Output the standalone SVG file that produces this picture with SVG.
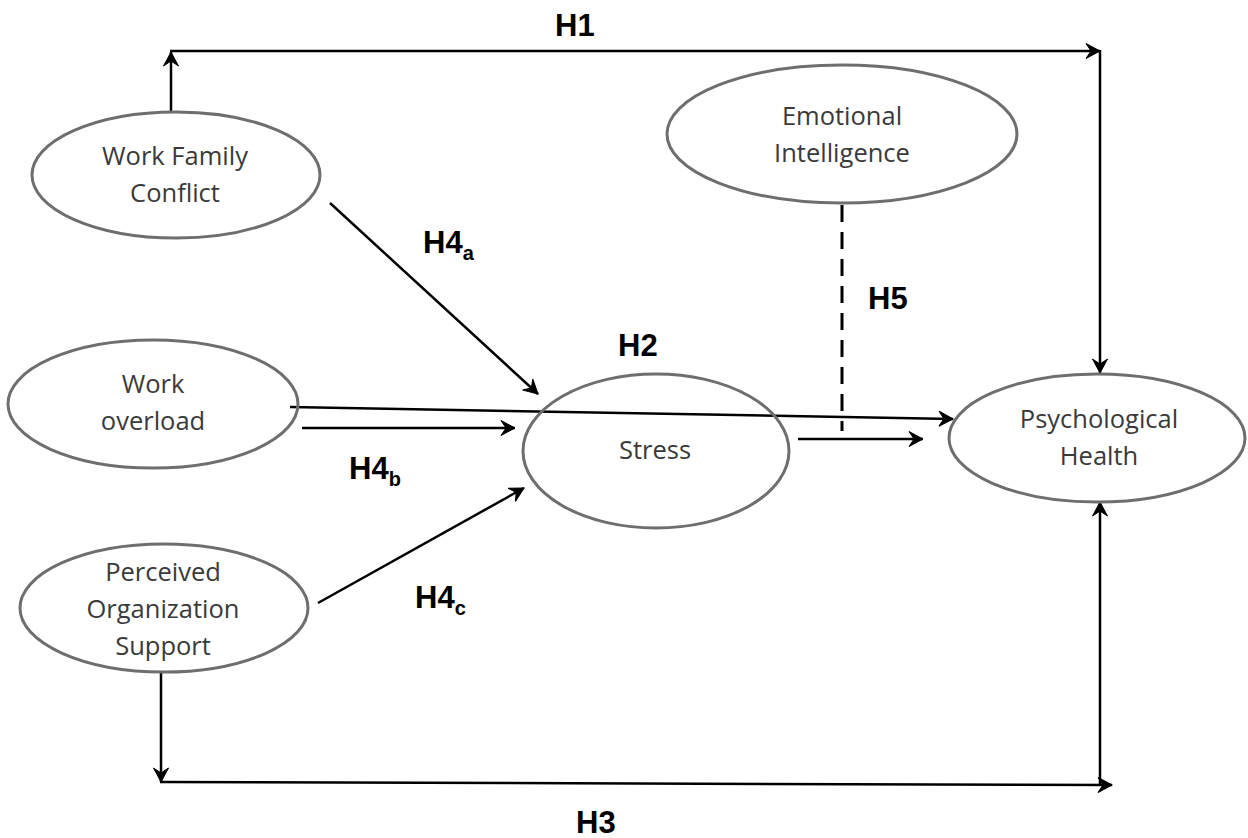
<svg xmlns="http://www.w3.org/2000/svg" width="1248" height="838" viewBox="0 0 1248 838">
<style>
.node ellipse{fill:none;stroke:#6e6e6e;stroke-width:3}
.node text{font-family:"Open Sans","Liberation Sans",sans-serif;font-size:25.5px;fill:#3a3a3a;text-anchor:middle}
.conn line{stroke:#000;stroke-width:2.5;fill:none}
.conn .arr{marker-end:url(#ah)}
.conn .dash{stroke-dasharray:17 10;stroke-width:3}
.lbl{font-family:"Liberation Sans",Arial,sans-serif;font-weight:bold;font-size:31px;fill:#000}
.sub{font-size:20px}
</style>
<defs>
<marker id="ah" markerUnits="userSpaceOnUse" markerWidth="20" markerHeight="20" viewBox="-16 -10 20 20" refX="0" refY="0" orient="auto">
<path d="M0,0 L-14,-7.5 L-9,0 L-14,7.5 Z" fill="#000" stroke="#000" stroke-width="1" stroke-linejoin="miter"/>
</marker>
</defs>
<rect width="1248" height="838" fill="#fff"/>
<g id="connectors" class="conn">
<line class="arr" x1="171" y1="111" x2="171" y2="52"/>
<line class="arr" x1="170" y1="51" x2="1100" y2="51"/>
<line class="arr" x1="1100" y1="50" x2="1100" y2="373"/>
<line class="arr" x1="330" y1="203" x2="538" y2="394"/>
<line class="arr" x1="290" y1="407" x2="953" y2="419"/>
<line class="arr" x1="302" y1="428" x2="515" y2="428"/>
<line class="arr" x1="318" y1="603" x2="524" y2="488"/>
<line class="arr" x1="798" y1="439" x2="923" y2="439"/>
<line class="dash" x1="842" y1="205" x2="842" y2="431"/>
<line class="arr" x1="161" y1="672" x2="161" y2="782"/>
<line class="arr" x1="160" y1="782" x2="1112" y2="785"/>
<line class="arr" x1="1100" y1="785" x2="1100" y2="502"/>
</g>
<g id="n-wfc" class="node">
<ellipse cx="176" cy="175" rx="144" ry="63"/>
<text x="175" y="165">Work Family</text>
<text x="175" y="202">Conflict</text>
</g>
<g id="n-ei" class="node">
<ellipse cx="842" cy="134" rx="175" ry="69"/>
<text x="842" y="125">Emotional</text>
<text x="842" y="162">Intelligence</text>
</g>
<g id="n-wo" class="node">
<ellipse cx="153" cy="404" rx="145" ry="64"/>
<text x="153" y="393">Work</text>
<text x="153" y="430">overload</text>
</g>
<g id="n-stress" class="node">
<ellipse cx="656" cy="451" rx="133" ry="77"/>
<text x="655" y="459">Stress</text>
</g>
<g id="n-ph" class="node">
<ellipse cx="1097" cy="438" rx="148" ry="64"/>
<text x="1099" y="428">Psychological</text>
<text x="1099" y="465">Health</text>
</g>
<g id="n-pos" class="node">
<ellipse cx="164" cy="608" rx="144" ry="64"/>
<text x="163" y="581">Perceived</text>
<text x="163" y="618">Organization</text>
<text x="163" y="655">Support</text>
</g>
<g id="labels">
<text class="lbl" x="555" y="36">H1</text>
<text class="lbl" x="423" y="253">H4<tspan class="sub" dy="7">a</tspan></text>
<text class="lbl" x="618" y="356">H2</text>
<text class="lbl" x="868" y="309">H5</text>
<text class="lbl" x="349" y="479">H4<tspan class="sub" dy="7">b</tspan></text>
<text class="lbl" x="415" y="608">H4<tspan class="sub" dy="7">c</tspan></text>
<text class="lbl" x="576" y="833">H3</text>
</g>
</svg>
